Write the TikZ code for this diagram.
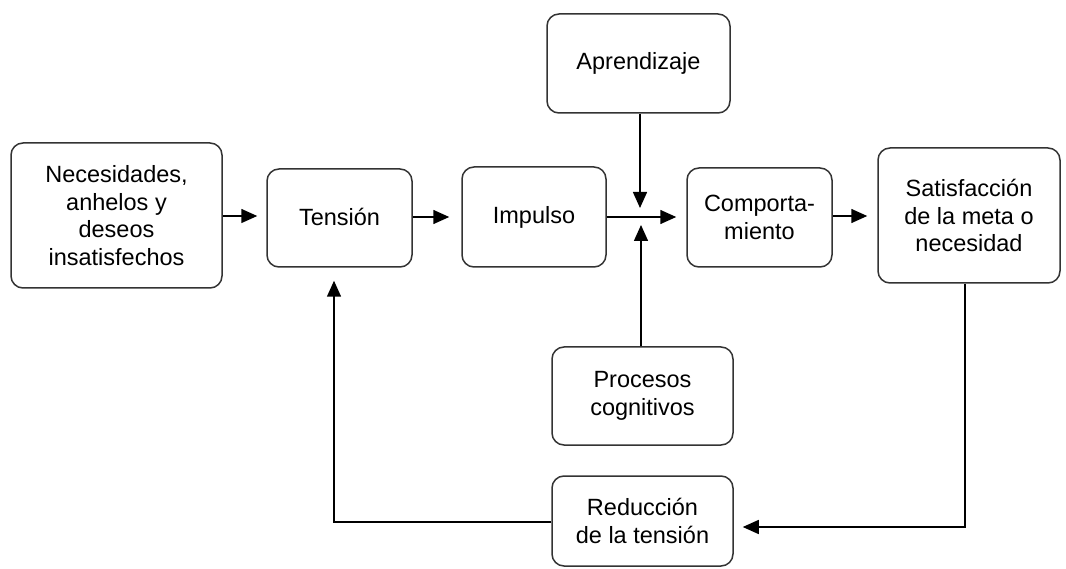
\documentclass[tikz,border=0pt]{standalone}
\usepackage{fontspec}
\setmainfont{Liberation Sans}
\usetikzlibrary{arrows.meta}
\begin{document}
\begin{tikzpicture}[x=1pt,y=-1pt,
  box/.style={draw=black!80, line width=1.5pt, rounded corners=12pt,
    align=center, inner sep=0pt, font=\fontsize{23.5}{27.5}\selectfont},
  arr/.style={line width=1.5pt, -{Triangle[length=16pt,width=14pt]}}]
\useasboundingbox (0,0) rectangle (1066,569);

% main chain
\node[box, minimum width=211pt, minimum height=145pt] (nec) at (116.5,215.5)
  {Necesidades,\\anhelos y\\deseos\\insatisfechos};
\node[box, minimum width=145pt, minimum height=98pt] (ten) at (339.5,218)
  {\raisebox{3pt}{Tensión}};
\node[box, minimum width=144pt, minimum height=100pt] (imp) at (534,217)
  {\raisebox{3pt}{Impulso}};
\node[box, minimum width=145pt, minimum height=99pt] (com) at (759.5,217.5)
  {Comporta-\\miento};
\node[box, minimum width=182pt, minimum height=135pt] (sat) at (969,215.5)
  {Satisfacción\\de la meta o\\necesidad};

% influences and feedback
\node[box, minimum width=183pt, minimum height=99pt] (apr) at (638.5,63.5) {Aprendizaje};
\node[box, minimum width=181pt, minimum height=98pt] (pro) at (642.5,396)
  {Procesos\\cognitivos};
\node[box, minimum width=181pt, minimum height=90pt] (red) at (642.5,521)
  {Reducción\\de la tensión};

\coordinate (jt) at (640,208);
\coordinate (jb) at (641,225);
\coordinate (fb) at (965,527);
\coordinate (rl) at (334,522);

\draw[arr, shorten >=9pt] (nec.east |- 0,216) -- (ten.west |- 0,216);
\draw[arr, shorten >=12pt] (ten.east |- 0,217) -- (imp.west |- 0,217);
\draw[arr, shorten >=10pt] (imp.east) -- (com.west |- imp.east);
\draw[arr, shorten >=10pt] (com.east |- 0,216) -- (sat.west |- 0,216);

\draw[arr] (jt |- apr.south) -- (jt);
\draw[arr] (jb |- pro.north) -- (jb);

\draw[arr, shorten >=9pt] (fb |- sat.south) -- (fb) -- (fb -| red.east);
\draw[arr, shorten >=13pt] (red.west |- rl) -- (rl) -- (rl |- ten.south);
\end{tikzpicture}
\end{document}
